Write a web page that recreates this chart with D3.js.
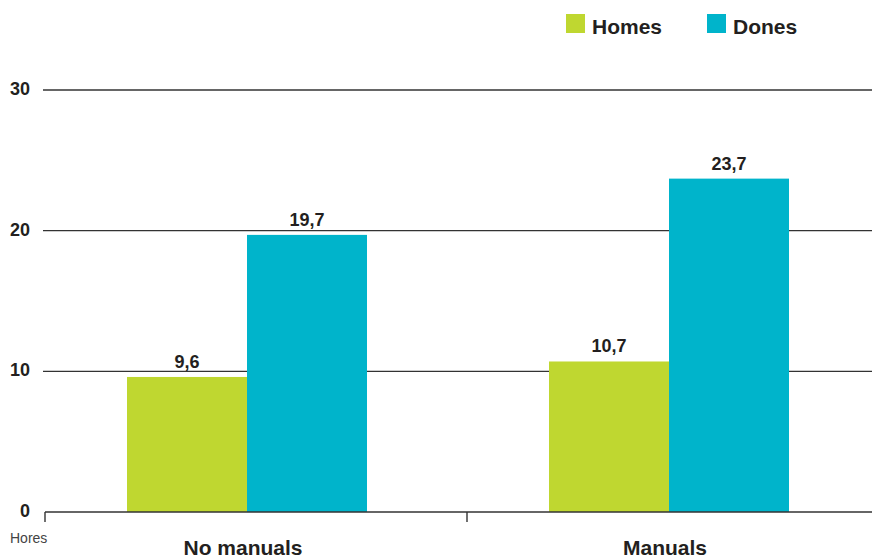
<!DOCTYPE html>
<html>
<head>
<meta charset="utf-8">
<script src="https://cdn.jsdelivr.net/npm/d3@7"></script>
<style>
  html, body { margin: 0; padding: 0; background: #fff; }
  svg { display: block; font-family: "Liberation Sans", Arial, Helvetica, sans-serif; }
</style>
</head>
<body>
<svg id="chart" width="872" height="560"></svg>
<script>
// Hours per category, by sex
const categories = ["No manuals", "Manuals"];
const seriesNames = ["Homes", "Dones"];
const homes = [9.6, 10.7];
const dones = [19.7, 23.7];
const yTicks = [0, 10, 20, 30];
const colors = ["#bfd730", "#00b4cb"];

const svg = d3.select("#chart");
const ink = "#231f20";

const y = d3.scaleLinear().domain([0, 30]).range([512, 90]);
const x0 = d3.scaleBand().domain(categories).range([45, 889]).padding(0);
const x1 = d3.scaleBand().domain(seriesNames).range([82, 322]).padding(0);

const rows = categories.map((c, i) => ({ cat: c, vals: [homes[i], dones[i]] }));

// horizontal gridlines
svg.append("g").selectAll("line")
  .data(yTicks.filter(t => t > 0))
  .join("line")
  .attr("x1", 43).attr("x2", 872)
  .attr("y1", d => y(d)).attr("y2", d => y(d))
  .attr("stroke", "#333").attr("stroke-width", 1.4);

// y tick labels
svg.append("g").selectAll("text")
  .data(yTicks)
  .join("text")
  .attr("x", 30).attr("y", d => y(d) + 5)
  .attr("text-anchor", "end")
  .attr("font-size", 18).attr("font-weight", "bold")
  .attr("fill", ink)
  .text(d => d);

// bars
const groups = svg.append("g").selectAll("g")
  .data(rows)
  .join("g")
  .attr("transform", d => `translate(${x0(d.cat)},0)`);

groups.selectAll("rect")
  .data(d => d.vals.map((v, j) => ({ key: seriesNames[j], v, j })))
  .join("rect")
  .attr("x", d => x1(d.key))
  .attr("width", x1.bandwidth())
  .attr("y", d => y(d.v))
  .attr("height", d => y(0) - y(d.v))
  .attr("fill", d => colors[d.j]);

groups.selectAll("text.val")
  .data(d => d.vals.map((v, j) => ({ key: seriesNames[j], v, j })))
  .join("text")
  .attr("class", "val")
  .attr("x", d => x1(d.key) + x1.bandwidth() / 2)
  .attr("y", d => y(d.v) - 9)
  .attr("text-anchor", "middle")
  .attr("font-size", 18).attr("font-weight", "bold")
  .attr("fill", ink)
  .text(d => String(d.v).replace(".", ","));

// x axis baseline and ticks
const axis = svg.append("g").attr("transform", `translate(0,${y(0)})`);
axis.append("line")
  .attr("x1", 45).attr("x2", 872)
  .attr("stroke", "#333").attr("stroke-width", 1.4);
axis.selectAll("line.tick")
  .data(categories)
  .join("line")
  .attr("class", "tick")
  .attr("x1", d => x0(d)).attr("x2", d => x0(d))
  .attr("y1", 0).attr("y2", 10)
  .attr("stroke", "#333").attr("stroke-width", 1.4);

// category labels
svg.append("g").selectAll("text")
  .data(categories)
  .join("text")
  .attr("x", d => x0(d) + (x1.range()[0] + x1.range()[1]) / 2 - 4)
  .attr("y", 555)
  .attr("text-anchor", "middle")
  .attr("font-size", 21).attr("font-weight", "bold")
  .attr("fill", ink)
  .text(d => d);

// unit label
svg.append("text")
  .attr("x", 10).attr("y", 543)
  .attr("font-size", 14)
  .attr("fill", "#444")
  .text("Hores");

// legend
const legendX = [566, 707];
const legend = svg.append("g").selectAll("g")
  .data(seriesNames)
  .join("g")
  .attr("transform", (d, i) => `translate(${legendX[i]},14)`);
legend.append("rect")
  .attr("width", 19).attr("height", 19)
  .attr("fill", (d, i) => colors[i]);
legend.append("text")
  .attr("x", 26).attr("y", 20)
  .attr("font-size", 21).attr("font-weight", "bold")
  .attr("fill", ink)
  .text(d => d);
</script>
</body>
</html>
